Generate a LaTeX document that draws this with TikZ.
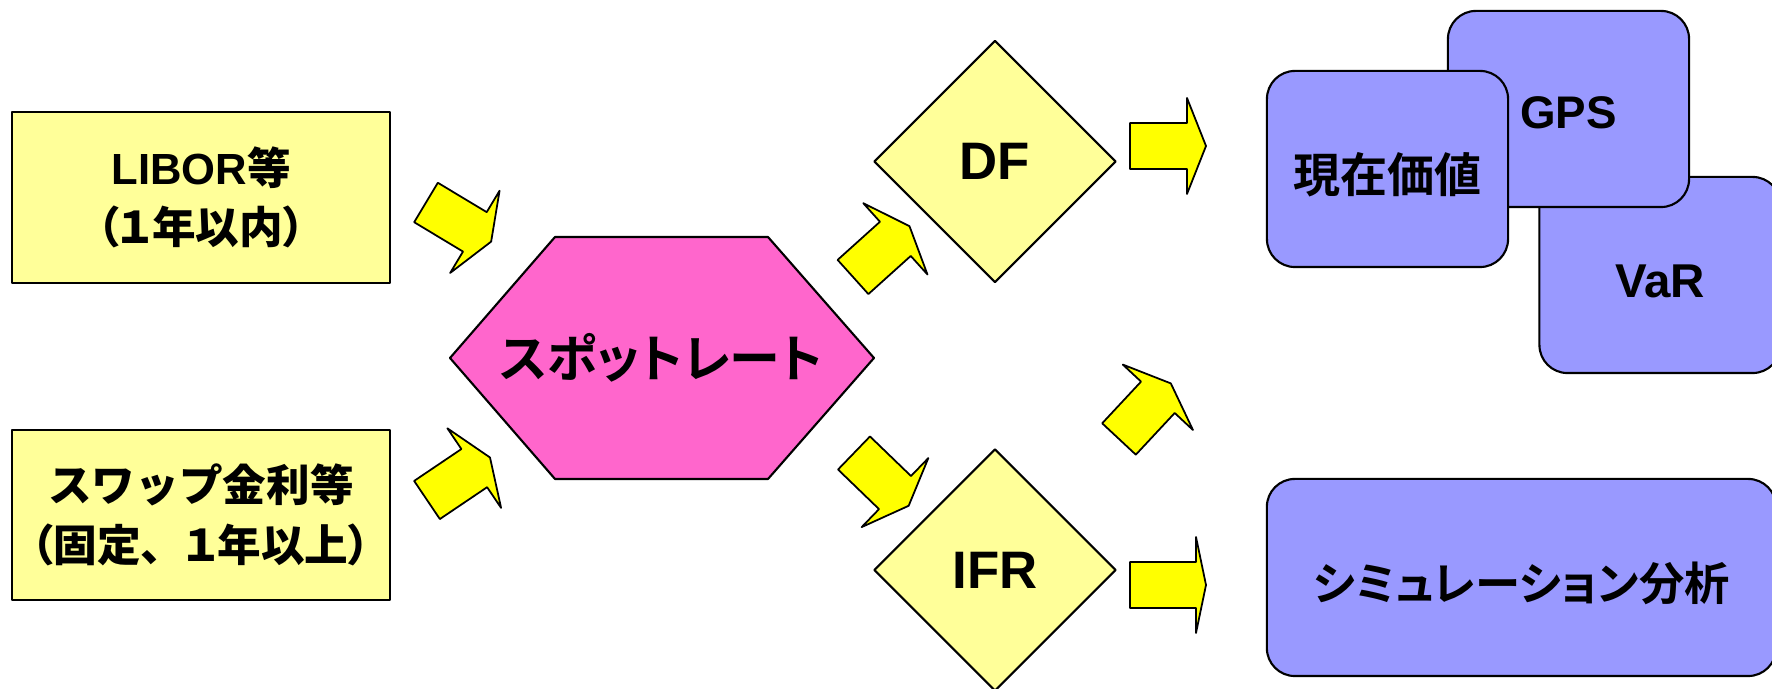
\documentclass[tikz,border=0pt]{standalone}
\usepackage{fontspec}
\setmainfont{Liberation Sans}
\newfontfamily\jp{Noto Sans CJK JP Bold}[RawFeature=+palt]
\newfontfamily\jpw{Noto Sans CJK JP Bold}
\usetikzlibrary{shapes.geometric}

\definecolor{inyellow}{HTML}{FFFF99}
\definecolor{arrowyellow}{HTML}{FFFF00}
\definecolor{spotpink}{HTML}{FF66CC}
\definecolor{outblue}{HTML}{9999FF}

\tikzset{
	pics/blockarrow/.style args={#1/#2}{code={
		\draw[arrowfill] (0,-23) -- (#1,-23) -- (#1,-48) -- ({#1+#2},0)
		-- (#1,48) -- (#1,23) -- (0,23) -- cycle;
	}}
}

\begin{document}
\begin{tikzpicture}[x=0.01cm, y=-0.01cm, line join=round, font=\bfseries,
	inbox/.style={draw, fill=inyellow, line width=0.6pt, inner sep=0pt,
		minimum width=3.78cm, align=center, font=\bfseries\fontsize{12.4}{16.6}\selectfont},
	choice/.style={diamond, aspect=1, draw, fill=inyellow, line width=0.6pt,
		inner sep=0pt, minimum width=2.42cm, minimum height=2.42cm,
		font=\bfseries\fontsize{15}{18}\selectfont},
	outbox/.style={draw, fill=outblue, line width=0.6pt, rounded corners=0.28cm,
		inner sep=0pt, minimum width=2.41cm, minimum height=1.96cm},
	arrowfill/.style={draw, fill=arrowyellow, line width=0.5pt}]
	
	\useasboundingbox (0,0) rectangle (1772,689);
	
	%========================
	% inputs
	%========================
	\node[inbox, minimum height=1.71cm] (libor) at (201,197.5)
	{LIBOR{\jp 等}\\{\jp （１年以内）}};
	\node[inbox, minimum height=1.70cm, font=\bfseries\fontsize{12.4}{17.2}\selectfont]
	(swap) at (201,515)
	{{\jpw スワップ金利等}\\{\jp （固定}{\jpw 、}{\jp １年以上）}};
	
	% spot rate hexagon
	\draw[fill=spotpink, line width=0.6pt]
	(450,358) -- (555,237) -- (768,237) -- (874,358) -- (768,479) -- (555,479) -- cycle;
	\node[font=\jp\fontsize{14.5}{17}\selectfont] (spot) at (661,358) {スポットレート};
	
	% DF / IFR
	\node[choice] (df) at (995,161.5) {DF};
	\node[choice] (ifr) at (995,570) {IFR};
	
	%========================
	% block arrows
	%========================
	\pic[rotate=-31] at (426,202.5) {blockarrow=57/19};
	\pic[rotate=34] at (427,500) {blockarrow=57/19};
	\pic[rotate=42] at (853,277) {blockarrow=57/19};
	\pic[rotate=-44] at (854,453) {blockarrow=57/19};
	\pic at (1130,146) {blockarrow=57/19};
	\pic at (1130,585) {blockarrow=66/10};
	\pic[rotate=47] at (1119,439) {blockarrow=57/19};
	
	%========================
	% outputs
	%========================
	\node[outbox, label={[font=\bfseries\fontsize{13.5}{16}\selectfont, yshift=-0.06cm]center:VaR}]
	(var) at (1660,275) {};
	\node[outbox, label={[font=\bfseries\fontsize{13}{16}\selectfont, yshift=-0.04cm]center:GPS}]
	(gps) at (1568.5,109) {};
	\node[outbox, label={[font=\jp\fontsize{13.4}{16}\selectfont, yshift=-0.06cm]center:現在価値}]
	(pv) at (1387.5,169) {};
	\node[outbox, minimum width=5.09cm, minimum height=1.97cm,
	label={[font=\jp\fontsize{12.9}{16}\selectfont, yshift=-0.06cm]center:シミュレーション分析}]
	(sim) at (1521.5,577.5) {};
	
\end{tikzpicture}
\end{document}
